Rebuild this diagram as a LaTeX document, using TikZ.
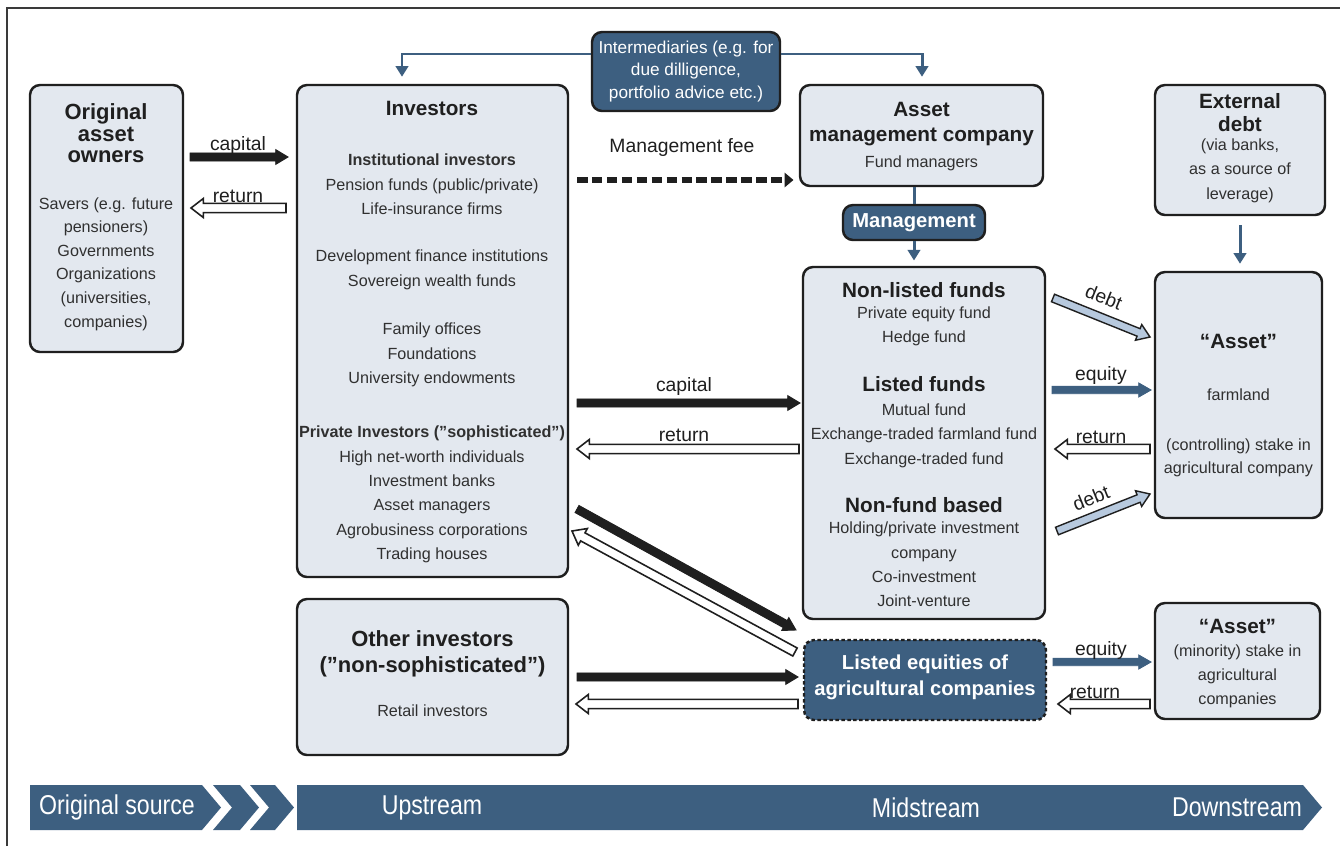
\documentclass[tikz,border=0pt]{standalone}
\usepackage{fontspec}
\setmainfont{Liberation Sans}
\newfontfamily\narrowfont[FakeStretch=0.85]{Liberation Sans}
\usetikzlibrary{calc,arrows.meta}
\definecolor{dblue}{HTML}{3D5F80}
\definecolor{lbox}{HTML}{E3E8EF}
\definecolor{ink}{HTML}{1F1F1F}
\definecolor{body}{HTML}{303030}
\definecolor{lblue}{HTML}{B7C9DE}
\definecolor{framec}{HTML}{3A3A3A}
\newcommand\mkbox[6][]{\node[#1, minimum width={(#4-#2)*0.02cm}, minimum height={(#5-#3)*0.02cm}] (#6) at ({(#2+#4)/2},{(#3+#5)/2}) {};}
\newcommand\barrow[6][]{%
  \coordinate (hb) at ($(#3)!#6!(#2)$);
  \draw[#1] ($(#2)!#4!-90:(#3)$) -- ($(hb)!#4!-90:(#3)$) -- ($(hb)!#5!-90:(#3)$) -- (#3)
    -- ($(hb)!#5!90:(#3)$) -- ($(hb)!#4!90:(#3)$) -- ($(#2)!#4!90:(#3)$) -- cycle;}
\tikzset{
 box/.style={draw=ink, fill=lbox, line width=1.4pt, rounded corners=0.2cm, inner sep=0pt},
 dbox/.style={draw=ink, fill=dblue, line width=1.4pt, rounded corners=0.2cm, inner sep=0pt},
 ttl/.style={font=\fontsize{11.8}{12.2}\selectfont\bfseries, text=ink, align=center, inner sep=0pt},
 txt/.style={font=\fontsize{9.2}{13.9}\selectfont, text=body, align=center, inner sep=0pt},
 lab/.style={font=\fontsize{11}{13}\selectfont, text=ink, inner sep=0pt},
 wtt/.style={font=\fontsize{11.5}{14.7}\selectfont\bfseries, text=white, align=center, inner sep=0pt},
 bart/.style={font=\narrowfont\fontsize{15.5}{17}\selectfont, text=white, inner sep=0pt},
 conn/.style={draw=dblue, line width=1.7pt, -{Triangle[length=6pt,width=7pt]}},
 blk/.style={fill=ink, draw=ink, line width=0.5pt},
 hol/.style={fill=white, draw=ink, line width=0.9pt},
 lbl/.style={fill=lblue, draw=ink, line width=0.8pt},
 blu/.style={fill=dblue, draw=dblue, line width=0.5pt},
 barshape/.style={fill=dblue, draw=none},
}
\begin{document}
\begin{tikzpicture}[x=0.02cm, y=-0.02cm]
\fill[white] (0,0) rectangle (1340,846);
\useasboundingbox (0,0) rectangle (1340,846);
\draw[framec, line width=1.6pt] (7,846) -- (7,8) -- (1340,8);

% boxes
\mkbox[box]{30}{85}{183}{352}{orig}
\mkbox[box]{297}{85}{568}{577}{inv}
\mkbox[dbox]{592}{32}{780}{111}{inter}
\mkbox[box]{800}{85}{1043}{186}{amc}
\mkbox[dbox]{843}{205}{985}{240}{mgmt}
\mkbox[box]{803}{267}{1045}{619}{nl}
\mkbox[box]{1155}{85}{1325}{215}{ext}
\mkbox[box]{1155}{272}{1322}{518}{asset}
\mkbox[box]{297}{599}{568}{755}{oth}
\mkbox[dbox, dash pattern=on 2pt off 1.4pt]{804}{640}{1046}{720}{leq}
\mkbox[box]{1155}{603}{1320}{719}{masset}

% texts: original owners
\node[ttl, font=\fontsize{12.5}{12.2}\selectfont\bfseries] (t1) at (106,133.5) {Original\\asset\\owners};
\node[txt, font=\fontsize{9.2}{13.4}\selectfont] (t2) at (106,264) {Savers (e.g. future\\pensioners)\\Governments\\Organizations\\(universities,\\companies)};
% investors
\node[ttl] (t3) at (432,108) {Investors};
\node[txt] (t4) at (432,184.5) {\textbf{Institutional investors}\\Pension funds (public/private)\\Life-insurance firms};
\node[txt] (t5) at (432,270) {Development finance institutions\\Sovereign wealth funds};
\node[txt] (t6) at (432,355) {Family offices\\Foundations\\University endowments};
\node[txt] (t7) at (432,494.5) {\textbf{Private Investors (”sophisticated”)}\\High net-worth individuals\\Investment banks\\Asset managers\\Agrobusiness corporations\\Trading houses};
% intermediaries
\node[txt, text=white, font=\fontsize{9.8}{13}\selectfont] (t8) at (686,71.5) {Intermediaries (e.g. for\\due dilligence,\\portfolio advice etc.)};
% amc
\node[ttl, font=\fontsize{11.8}{14.7}\selectfont\bfseries] (t9) at (921.5,124) {Asset\\management company};
\node[txt] (t10) at (921.5,163) {Fund managers};
\node[wtt] (t11) at (914,222.5) {Management};
% non-listed
\node[ttl] (t12) at (924,290) {Non-listed funds};
\node[txt] (t13) at (924,326.5) {Private equity fund\\Hedge fund};
\node[ttl] (t14) at (924,384) {Listed funds};
\node[txt] (t15) at (924,435.5) {Mutual fund\\Exchange-traded farmland fund\\Exchange-traded fund};
\node[ttl] (t16) at (924,505) {Non-fund based};
\node[txt] (t17) at (924,564.5) {Holding/private investment\\company\\Co-investment\\Joint-venture};
% external debt
\node[ttl, font=\fontsize{11.8}{13}\selectfont\bfseries] (t18) at (1240,112.5) {External\\debt};
\node[txt] (t19) at (1240,170.5) {(via banks,\\as a source of\\leverage)};
% asset
\node[ttl] (t20) at (1238.5,341) {“Asset”};
\node[txt] (t21) at (1238.5,395) {farmland};
\node[txt, font=\fontsize{9.2}{13}\selectfont] (t22) at (1238.5,457.5) {(controlling) stake in\\agricultural company};
% other investors
\node[ttl, font=\fontsize{12.5}{14.7}\selectfont\bfseries] (t23) at (432.5,654) {Other investors\\(”non-sophisticated”)};
\node[txt] (t24) at (432.5,711) {Retail investors};
% listed equities
\node[wtt] (t25) at (925,677) {Listed equities of\\agricultural companies};
% minority asset
\node[ttl] (t26) at (1237.5,626) {“Asset”};
\node[txt, font=\fontsize{9.2}{13.6}\selectfont] (t27) at (1237.5,676) {(minority) stake in\\agricultural\\companies};

% blue connectors
\draw[conn, shorten >=4pt] (inter.west |- 0,54) -| (inv.north -| 402,0);
\draw[conn, shorten >=4pt] (inter.east |- 0,54) -| (amc.north -| 922,0);
\draw[dblue, line width=1.7pt] (mgmt.north |- amc.south) -- (mgmt.north);
\draw[conn, shorten >=3pt] (mgmt.south) -- (mgmt.south |- nl.north);
\draw[conn, shorten >=4pt, shorten <=5pt] (ext.south) -- (ext.south |- asset.north);

% arrow end points
\coordinate (a1s) at (190,157); \coordinate (a1e) at (288,157);
\coordinate (a2s) at (286,208); \coordinate (a2e) at (191,208);
\coordinate (a3s) at (577,403); \coordinate (a3e) at (800,403);
\coordinate (a4s) at (799,449); \coordinate (a4e) at (577,449);
\coordinate (a5s) at (577,509); \coordinate (a5e) at (796,630);
\coordinate (a6s) at (795,652); \coordinate (a6e) at (572,531);
\coordinate (a7s) at (577,677); \coordinate (a7e) at (798,677);
\coordinate (a8s) at (798,704); \coordinate (a8e) at (576,704);
\coordinate (a9s) at (1053,298); \coordinate (a9e) at (1150,337);
\coordinate (a10s) at (1052,390); \coordinate (a10e) at (1151,390);
\coordinate (a11s) at (1150,449); \coordinate (a11e) at (1055,449);
\coordinate (a12s) at (1057,531); \coordinate (a12e) at (1150,494);
\coordinate (a13s) at (1053,662); \coordinate (a13e) at (1151,662);
\coordinate (a14s) at (1150,704); \coordinate (a14e) at (1058,704);
\coordinate (mfs) at (577,180); \coordinate (mfe) at (amc.west |- 0,180);

\barrow[blk]{a1s}{a1e}{2.3pt}{4.2pt}{7pt}
\barrow[hol]{a2s}{a2e}{2.6pt}{5.4pt}{7pt}
\barrow[blk]{a3s}{a3e}{2.3pt}{4.2pt}{7pt}
\barrow[hol]{a4s}{a4e}{2.6pt}{5.4pt}{7pt}
\barrow[blk]{a5s}{a5e}{2.3pt}{4.2pt}{7pt}
\barrow[hol]{a6s}{a6e}{2.6pt}{5.4pt}{7pt}
\barrow[blk]{a7s}{a7e}{2.3pt}{4.2pt}{7pt}
\barrow[hol]{a8s}{a8e}{2.6pt}{5.4pt}{7pt}
\barrow[lbl]{a9s}{a9e}{2.3pt}{4.8pt}{7pt}
\barrow[blu]{a10s}{a10e}{2.1pt}{4pt}{7pt}
\barrow[hol]{a11s}{a11e}{2.6pt}{5.4pt}{7pt}
\barrow[lbl]{a12s}{a12e}{2.3pt}{4.8pt}{7pt}
\barrow[blu]{a13s}{a13e}{2.1pt}{4pt}{7pt}
\barrow[hol]{a14s}{a14e}{2.6pt}{5.4pt}{7pt}
\draw[ink, line width=3.2pt, dash pattern=on 6pt off 2.5pt, shorten >=3pt, -{Triangle[length=5pt,width=8pt]}] (mfs) -- (mfe);

% labels
\node[lab] (l1) at (238,145) {capital};
\node[lab] (l2) at (238,196) {return};
\node[lab] (l3) at (682,148) {Management fee};
\node[lab] (l4) at (684,386) {capital};
\node[lab] (l5) at (684,435) {return};
\node[lab, rotate=-22] (l6) at (1104,297) {debt};
\node[lab] (l7) at (1101,375) {equity};
\node[lab] (l8) at (1101,437) {return};
\node[lab, rotate=22] (l9) at (1091,498) {debt};
\node[lab] (l10) at (1101,650) {equity};
\node[lab] (l11) at (1095,692) {return};

% bottom bar
\fill[barshape] (30,785) -- (202,785) -- (221,807.5) -- (202,830) -- (30,830) -- cycle;
\fill[barshape] (213,785) -- (240,785) -- (259,807.5) -- (240,830) -- (213,830) -- (232,807.5) -- cycle;
\fill[barshape] (250,785) -- (275,785) -- (294,807.5) -- (275,830) -- (250,830) -- (269,807.5) -- cycle;
\fill[barshape] (297,785) -- (1303,785) -- (1322,807.5) -- (1303,830) -- (297,830) -- cycle;
\node[bart] (b1) at (117,807.5) {Original source};
\node[bart] (b2) at (432,807.5) {Upstream};
\node[bart] (b3) at (926,807.5) {Midstream};
\node[bart] (b4) at (1237,807.5) {Downstream};
\end{tikzpicture}
\end{document}
